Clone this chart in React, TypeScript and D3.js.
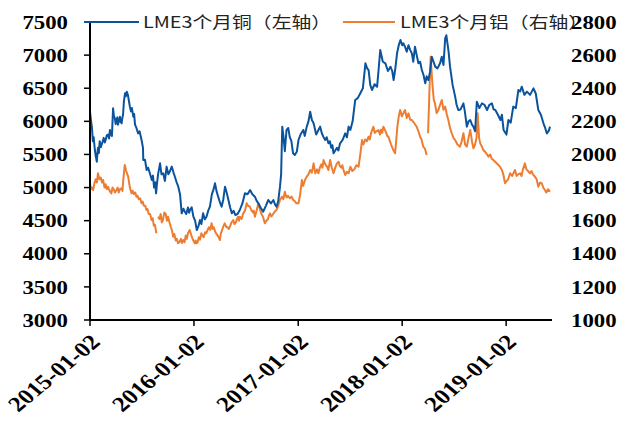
import React from "react";
import * as d3 from "d3";

// LME 3-month copper (left axis), [date, USD/t]
const copperSeries: [string, number][] = [
  ["2015-01-02",6145],["2015-01-05",6030],["2015-01-09",5900],["2015-01-12",5700],["2015-01-15",5760],["2015-01-19",5567],
  ["2015-01-22",5480],["2015-01-26",5390],["2015-01-28",5520],["2015-01-30",5600],["2015-02-02",5520],["2015-02-05",5700],
  ["2015-02-09",5610],["2015-02-12",5650],["2015-02-16",5700],["2015-02-19",5750],["2015-02-23",5680],["2015-02-26",5718],
  ["2015-03-02",5790],["2015-03-06",5800],["2015-03-10",5740],["2015-03-13",5870],["2015-03-17",5800],["2015-03-20",5780],
  ["2015-03-24",6197],["2015-03-27",6080],["2015-03-30",6050],["2015-04-02",5960],["2015-04-05",6020],["2015-04-08",6060],
  ["2015-04-10",5950],["2015-04-14",6010],["2015-04-17",6070],["2015-04-20",5990],["2015-04-23",5970],["2015-04-25",6040],
  ["2015-04-28",6100],["2015-05-01",6300],["2015-05-05",6423],["2015-05-08",6380],["2015-05-11",6448],["2015-05-15",6400],
  ["2015-05-19",6300],["2015-05-22",6222],["2015-05-26",6150],["2015-05-29",6200],["2015-06-03",6070],["2015-06-06",6110],
  ["2015-06-09",5950],["2015-06-14",5900],["2015-06-20",5818],["2015-06-25",5850],["2015-07-02",5718],["2015-07-07",5600],
  ["2015-07-08",5416],["2015-07-14",5420],["2015-07-20",5265],["2015-07-25",5300],["2015-07-31",5220],["2015-08-07",5114],
  ["2015-08-11",5180],["2015-08-15",5000],["2015-08-19",5080],["2015-08-22",4913],["2015-08-25",5050],["2015-08-29",5200],
  ["2015-09-05",5366],["2015-09-10",5200],["2015-09-16",5215],["2015-09-22",5100],["2015-09-28",5316],["2015-10-04",5200],
  ["2015-10-10",5250],["2015-10-16",5316],["2015-10-22",5230],["2015-10-27",5164],["2015-11-02",5080],["2015-11-08",5013],
  ["2015-11-14",4900],["2015-11-20",4611],["2015-11-26",4680],["2015-12-01",4636],["2015-12-06",4600],["2015-12-12",4700],
  ["2015-12-16",4620],["2015-12-19",4661],["2015-12-25",4700],["2015-12-31",4560],["2016-01-06",4500],["2016-01-12",4359],
  ["2016-01-18",4420],["2016-01-23",4510],["2016-01-28",4450],["2016-02-03",4611],["2016-02-09",4520],["2016-02-15",4560],
  ["2016-02-21",4650],["2016-02-27",4711],["2016-03-05",4900],["2016-03-10",4960],["2016-03-16",5064],["2016-03-21",4950],
  ["2016-03-27",4862],["2016-04-02",4780],["2016-04-08",4711],["2016-04-14",4820],["2016-04-20",5013],["2016-04-26",4920],
  ["2016-05-02",4812],["2016-05-08",4700],["2016-05-14",4611],["2016-05-20",4650],["2016-05-26",4586],["2016-06-03",4600],
  ["2016-06-11",4661],["2016-06-20",4760],["2016-06-29",4913],["2016-07-08",4900],["2016-07-17",4963],["2016-07-25",4900],
  ["2016-08-03",4862],["2016-08-09",4800],["2016-08-15",4762],["2016-08-23",4700],["2016-09-01",4636],["2016-09-10",4720],
  ["2016-09-19",4812],["2016-09-28",4760],["2016-10-07",4812],["2016-10-12",4750],["2016-10-18",4711],["2016-10-24",4800],
  ["2016-10-30",5013],["2016-11-03",5200],["2016-11-07",5920],["2016-11-11",5780],["2016-11-16",5550],["2016-11-22",5870],
  ["2016-11-28",5900],["2016-12-03",5768],["2016-12-09",5700],["2016-12-15",5517],["2016-12-21",5492],["2016-12-28",5540],
  ["2017-01-03",5718],["2017-01-10",5800],["2017-01-20",5870],["2017-01-25",5780],["2017-02-01",5920],["2017-02-07",6000],
  ["2017-02-13",6145],["2017-02-19",6020],["2017-02-25",5970],["2017-03-06",5800],["2017-03-14",5870],["2017-03-20",5920],
  ["2017-03-26",5820],["2017-04-01",5760],["2017-04-07",5718],["2017-04-12",5760],["2017-04-18",5668],["2017-04-23",5700],
  ["2017-04-28",5600],["2017-05-02",5640],["2017-05-06",5517],["2017-05-12",5560],["2017-05-18",5600],["2017-05-23",5560],
  ["2017-05-29",5668],["2017-06-07",5720],["2017-06-16",5818],["2017-06-22",5760],["2017-06-28",5920],["2017-07-04",5870],
  ["2017-07-12",6000],["2017-07-21",6322],["2017-07-30",6350],["2017-08-08",6423],["2017-08-17",6500],["2017-08-26",6876],
  ["2017-09-01",6800],["2017-09-06",6775],["2017-09-12",6550],["2017-09-18",6473],["2017-09-27",6560],["2017-10-06",6523],
  ["2017-10-12",6820],["2017-10-17",7077],["2017-10-26",6900],["2017-11-04",6876],["2017-11-13",6760],["2017-11-22",6825],
  ["2017-11-28",6760],["2017-12-03",6624],["2017-12-09",6800],["2017-12-15",7027],["2017-12-21",7150],["2017-12-27",7228],
  ["2018-01-02",7150],["2018-01-06",7178],["2018-01-12",7127],["2018-01-18",7050],["2018-01-24",7150],["2018-01-30",7080],
  ["2018-02-05",7027],["2018-02-10",6900],["2018-02-16",7127],["2018-02-22",7000],["2018-02-28",6876],["2018-03-06",6900],
  ["2018-03-12",6775],["2018-03-18",6700],["2018-03-24",6574],["2018-03-29",6680],["2018-04-04",6624],["2018-04-10",6750],
  ["2018-04-16",6976],["2018-04-22",6900],["2018-04-28",6826],["2018-05-06",6800],["2018-05-15",6876],["2018-05-21",6976],
  ["2018-05-27",6850],["2018-06-02",7253],["2018-06-06",7300],["2018-06-10",7178],["2018-06-14",7050],["2018-06-19",6826],
  ["2018-06-28",6550],["2018-07-07",6373],["2018-07-12",6250],["2018-07-18",6171],["2018-07-26",6180],["2018-08-05",6271],
  ["2018-08-10",6150],["2018-08-17",5920],["2018-08-23",6000],["2018-08-29",6020],["2018-09-04",5950],["2018-09-09",5920],
  ["2018-09-15",5850],["2018-09-21",6296],["2018-09-30",6200],["2018-10-09",6271],["2018-10-18",6250],["2018-10-27",6171],
  ["2018-11-04",6250],["2018-11-13",6271],["2018-11-19",6180],["2018-11-25",6171],["2018-12-04",6100],["2018-12-13",6020],
  ["2018-12-18",6100],["2018-12-24",5870],["2019-01-03",5800],["2019-01-10",6020],["2019-01-18",5980],["2019-01-27",6222],
  ["2019-02-05",6200],["2019-02-14",6473],["2019-02-20",6450],["2019-02-26",6523],["2019-03-07",6400],["2019-03-16",6448],
  ["2019-03-27",6400],["2019-04-08",6498],["2019-04-16",6420],["2019-04-25",6171],["2019-05-04",6100],["2019-05-13",5970],
  ["2019-05-19",5900],["2019-05-25",5818],["2019-06-01",5860],["2019-06-05",5920]
];

// LME 3-month aluminium (right axis), [date, USD/t]; null = gap in the series
const aluminumSeries: [string, number | null][] = [
  ["2015-01-02",1826],["2015-01-05",1790],["2015-01-09",1800],["2015-01-13",1785],["2015-01-18",1830],["2015-01-22",1850],
  ["2015-01-26",1830],["2015-01-30",1886],["2015-02-04",1850],["2015-02-09",1860],["2015-02-13",1830],["2015-02-17",1846],
  ["2015-02-22",1800],["2015-02-26",1820],["2015-03-02",1790],["2015-03-06",1805],["2015-03-12",1780],["2015-03-18",1765],
  ["2015-03-22",1800],["2015-03-26",1790],["2015-03-31",1770],["2015-04-05",1785],["2015-04-09",1800],["2015-04-13",1770],
  ["2015-04-17",1790],["2015-04-22",1795],["2015-04-26",1780],["2015-04-29",1850],["2015-05-04",1936],["2015-05-09",1900],
  ["2015-05-16",1866],["2015-05-22",1800],["2015-05-28",1765],["2015-06-01",1780],["2015-06-05",1760],["2015-06-10",1770],
  ["2015-06-14",1745],["2015-06-18",1750],["2015-06-22",1730],["2015-06-27",1735],["2015-07-02",1705],["2015-07-06",1715],
  ["2015-07-10",1690],["2015-07-15",1690],["2015-07-19",1665],["2015-07-23",1670],["2015-07-27",1640],["2015-08-01",1640],
  ["2015-08-06",1604],["2015-08-10",1615],["2015-08-14",1570],["2015-08-18",1575],["2015-08-23",1524],["2015-08-26",null],
  ["2015-08-29",1624],["2015-09-03",1610],["2015-09-07",1640],["2015-09-11",1590],["2015-09-15",1604],["2015-09-20",1650],
  ["2015-09-25",1640],["2015-09-29",1600],["2015-10-03",1624],["2015-10-08",1590],["2015-10-13",1560],["2015-10-17",1540],
  ["2015-10-21",1503],["2015-10-25",1520],["2015-10-30",1480],["2015-11-03",1490],["2015-11-07",1463],["2015-11-12",1470],
  ["2015-11-17",1490],["2015-11-21",1465],["2015-11-25",1483],["2015-11-30",1470],["2015-12-04",1510],["2015-12-08",1490],
  ["2015-12-12",1524],["2015-12-18",1544],["2015-12-24",1510],["2015-12-30",1483],["2016-01-05",1463],["2016-01-08",1480],
  ["2016-01-11",1463],["2016-01-15",1470],["2016-01-19",1500],["2016-01-23",1485],["2016-01-28",1524],["2016-02-01",1510],
  ["2016-02-05",1500],["2016-02-10",1530],["2016-02-14",1524],["2016-02-18",1540],["2016-02-23",1560],["2016-02-28",1545],
  ["2016-03-04",1584],["2016-03-08",1550],["2016-03-12",1560],["2016-03-16",1535],["2016-03-21",1520],["2016-03-27",1505],
  ["2016-04-02",1483],["2016-04-05",1520],["2016-04-09",1540],["2016-04-14",1565],["2016-04-19",1584],["2016-04-25",1560],
  ["2016-04-30",1560],["2016-05-03",1550],["2016-05-07",1564],["2016-05-13",1590],["2016-05-19",1604],["2016-05-23",1580],
  ["2016-05-28",1590],["2016-06-01",1610],["2016-06-05",1624],["2016-06-08",1600],["2016-06-11",1624],["2016-06-17",1610],
  ["2016-06-23",1644],["2016-06-29",1660],["2016-07-05",1705],["2016-07-10",1690],["2016-07-16",1685],["2016-07-21",1665],
  ["2016-07-27",1650],["2016-07-30",1660],["2016-08-03",1624],["2016-08-09",1660],["2016-08-15",1705],["2016-08-18",1690],
  ["2016-08-21",1665],["2016-08-26",1640],["2016-09-01",1620],["2016-09-04",1600],["2016-09-07",1584],["2016-09-12",1600],
  ["2016-09-18",1610],["2016-09-21",1630],["2016-09-25",1644],["2016-09-30",1625],["2016-10-06",1640],["2016-10-12",1655],
  ["2016-10-18",1665],["2016-10-24",1690],["2016-10-30",1725],["2016-11-06",1745],["2016-11-11",1730],["2016-11-16",1775],
  ["2016-11-22",1740],["2016-11-27",1750],["2016-12-04",1735],["2016-12-10",1745],["2016-12-15",1725],["2016-12-20",1720],
  ["2016-12-27",1705],["2017-01-03",1705],["2017-01-09",1760],["2017-01-15",1846],["2017-01-19",1810],["2017-01-23",1830],
  ["2017-01-27",1850],["2017-02-01",1866],["2017-02-07",1880],["2017-02-13",1906],["2017-02-19",1890],["2017-02-25",1946],
  ["2017-03-03",1886],["2017-03-09",1910],["2017-03-14",1886],["2017-03-19",1920],["2017-03-24",1940],["2017-03-28",1920],
  ["2017-04-01",1966],["2017-04-07",1940],["2017-04-13",1926],["2017-04-18",1906],["2017-04-24",1966],["2017-04-30",1920],
  ["2017-05-06",1886],["2017-05-12",1920],["2017-05-18",1946],["2017-05-24",1956],["2017-05-28",1930],["2017-06-02",1920],
  ["2017-06-06",1935],["2017-06-10",1906],["2017-06-16",1876],["2017-06-22",1895],["2017-06-28",1886],["2017-07-04",1926],
  ["2017-07-11",1900],["2017-07-18",1910],["2017-07-25",1935],["2017-08-02",1926],["2017-08-08",2000],["2017-08-14",2087],
  ["2017-08-19",2060],["2017-08-25",2090],["2017-08-31",2080],["2017-09-06",2107],["2017-09-10",2090],["2017-09-15",2130],
  ["2017-09-23",2167],["2017-09-28",2130],["2017-10-03",2140],["2017-10-11",2147],["2017-10-16",2120],["2017-10-20",2150],
  ["2017-10-24",2130],["2017-10-28",2167],["2017-11-02",2150],["2017-11-07",2130],["2017-11-11",2110],["2017-11-15",2107],
  ["2017-11-20",2080],["2017-11-24",2060],["2017-12-01",2030],["2017-12-08",2007],["2017-12-12",2080],["2017-12-16",2167],
  ["2017-12-21",2230],["2017-12-26",2268],["2018-01-01",2230],["2018-01-06",2248],["2018-01-12",2268],["2018-01-18",2220],
  ["2018-01-24",2248],["2018-01-30",2210],["2018-02-05",2208],["2018-02-13",2190],["2018-02-22",2167],["2018-02-28",2140],
  ["2018-03-06",2107],["2018-03-11",2090],["2018-03-17",2047],["2018-03-23",2035],["2018-03-29",1997],["2018-04-01",null],
  ["2018-04-03",2128],["2018-04-08",2400],["2018-04-12",2590],["2018-04-16",2480],["2018-04-19",2409],["2018-04-23",2330],
  ["2018-04-27",2309],["2018-05-03",2250],["2018-05-09",2268],["2018-05-15",2300],["2018-05-21",2329],["2018-05-27",2270],
  ["2018-06-02",2289],["2018-06-08",2240],["2018-06-13",2208],["2018-06-19",2160],["2018-06-25",2128],["2018-07-01",2100],
  ["2018-07-07",2087],["2018-07-15",2060],["2018-07-24",2047],["2018-07-30",2080],["2018-08-05",2128],["2018-08-11",2060],
  ["2018-08-17",2047],["2018-08-23",2100],["2018-08-29",2148],["2018-09-04",2080],["2018-09-09",2037],["2018-09-15",2060],
  ["2018-09-20",2100],["2018-09-24",2249],["2018-09-29",2100],["2018-10-03",2067],["2018-10-08",2050],["2018-10-14",2027],
  ["2018-10-23",2010],["2018-11-01",1987],["2018-11-07",2000],["2018-11-12",1975],["2018-11-18",1966],["2018-11-28",1950],
  ["2018-12-06",1936],["2018-12-12",1925],["2018-12-18",1906],["2018-12-23",1880],["2018-12-29",1826],["2019-01-04",1840],
  ["2019-01-09",1850],["2019-01-16",1886],["2019-01-23",1870],["2019-02-02",1906],["2019-02-08",1870],["2019-02-13",1880],
  ["2019-02-20",1886],["2019-02-25",1870],["2019-03-02",1910],["2019-03-09",1946],["2019-03-14",1910],["2019-03-20",1900],
  ["2019-03-27",1886],["2019-04-01",1900],["2019-04-06",1880],["2019-04-13",1866],["2019-04-19",1850],["2019-04-25",1805],
  ["2019-05-01",1830],["2019-05-07",1826],["2019-05-12",1800],["2019-05-18",1785],["2019-05-23",1770],["2019-05-29",1790],
  ["2019-06-05",1775]
];

const leftTicks = [3000, 3500, 4000, 4500, 5000, 5500, 6000, 6500, 7000, 7500];
const rightTicks = [1000, 1200, 1400, 1600, 1800, 2000, 2200, 2400, 2600, 2800];
const xTickLabels = ["2015-01-02", "2016-01-02", "2017-01-02", "2018-01-02", "2019-01-02"];
const seriesNames = ["LME3个月铜（左轴）", "LME3个月铝（右轴）"];

const W = 620, H = 423;
const left = 90, right = 552, top = 22, bottom = 320;
const BLUE = "#0B539C";
const ORANGE = "#ED7D31";
const parse = d3.timeParse("%Y-%m-%d");
const STRETCH = 1.2;

type Pt = { d: Date; v: number | null };

export default function App() {
  const x = d3.scaleTime()
    .domain([parse("2015-01-02")!, parse("2019-06-12")!])
    .range([left, right]);
  const yL = d3.scaleLinear().domain([3000, 7500]).range([bottom, top]);
  const yR = d3.scaleLinear().domain([1000, 2800]).range([bottom, top]);

  const cu: Pt[] = copperSeries.map(([d, v]) => ({ d: parse(d)!, v }));
  const al: Pt[] = aluminumSeries.map(([d, v]) => ({ d: parse(d)!, v }));

  const lineL = d3.line<Pt>().defined((p) => p.v !== null).x((p) => x(p.d)).y((p) => yL(p.v as number));
  const lineR = d3.line<Pt>().defined((p) => p.v !== null).x((p) => x(p.d)).y((p) => yR(p.v as number));

  const labelFont = { fontFamily: "'Liberation Serif', 'Times New Roman', serif", fontWeight: 700, fontSize: 19, fill: "#000" } as const;
  const legendFont = { fontFamily: "'Noto Sans CJK SC', 'Noto Sans', sans-serif", fontSize: 16, fill: "#222" } as const;

  return (
    <svg width={W} height={H} style={{ position: "absolute", left: 0, top: 0, background: "#fff" }}>
      <path d={lineR(al) || ""} fill="none" stroke={ORANGE} strokeWidth={2} strokeLinejoin="round" />
      <path d={lineL(cu) || ""} fill="none" stroke={BLUE} strokeWidth={2} strokeLinejoin="round" />

      <line x1={left} x2={left} y1={top} y2={bottom} stroke="#000" strokeWidth={2} />
      <line x1={left} x2={right} y1={bottom} y2={bottom} stroke="#000" strokeWidth={2} />
      {leftTicks.map((t) => (
        <g key={"l" + t}>
          <line x1={left - 6} x2={left} y1={yL(t)} y2={yL(t)} stroke="#000" strokeWidth={1.5} />
          <text transform={`translate(68,${yL(t)}) scale(${STRETCH},1)`} textAnchor="end" dy="0.35em" style={labelFont}>{t}</text>
        </g>
      ))}
      {xTickLabels.map((t) => {
        const tx = x(parse(t)!);
        return (
          <g key={t}>
            <line x1={tx} x2={tx} y1={bottom} y2={bottom + 6} stroke="#000" strokeWidth={1.5} />
            <text transform={`translate(${tx - 1},${bottom + 13}) scale(${STRETCH},1) rotate(-45)`} textAnchor="end" dy="0.7em" style={{ ...labelFont, fontSize: 21 }}>{t}</text>
          </g>
        );
      })}

      <line x1={84} x2={139} y1={top} y2={top} stroke={BLUE} strokeWidth={2} />
      <text x={143} y={top} dy="0.35em" textLength={188} lengthAdjust="spacingAndGlyphs" style={legendFont}>{seriesNames[0]}</text>
      <line x1={343} x2={395} y1={top} y2={top} stroke={ORANGE} strokeWidth={2} />
      <text x={400} y={top} dy="0.35em" textLength={188} lengthAdjust="spacingAndGlyphs" style={legendFont}>{seriesNames[1]}</text>

      {rightTicks.map((t) => (
        <text key={"r" + t} transform={`translate(571,${yR(t)}) scale(${STRETCH},1)`} textAnchor="start" dy="0.35em" style={labelFont}>{t}</text>
      ))}
    </svg>
  );
}
